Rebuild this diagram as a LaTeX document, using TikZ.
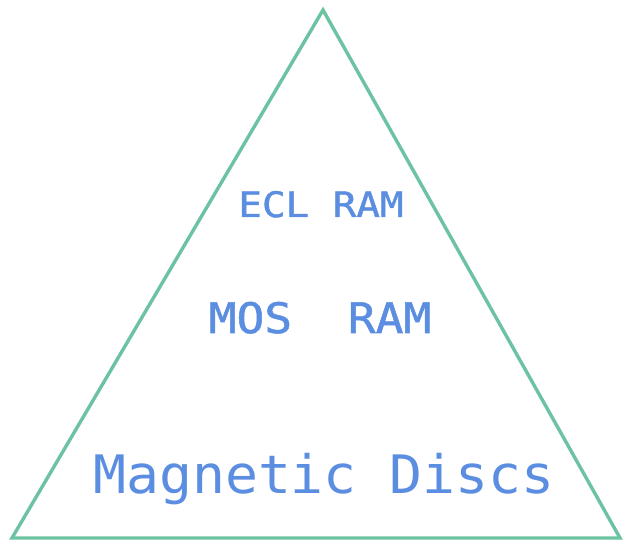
\documentclass[tikz,border=0pt]{standalone}
\usepackage{fontspec}
\newfontfamily\plotfont{DejaVu Sans Mono}[BoldFont={DejaVu Sans Mono},BoldFeatures={FakeBold=1.2}]
\definecolor{edgegreen}{HTML}{6CC3A2}
\definecolor{textblue}{HTML}{5B8EE0}
\begin{document}
\begin{tikzpicture}[x=1pt,y=1pt,
  edge/.style={draw=edgegreen,line width=3.4pt,line join=miter},
  label/.style={text=textblue,anchor=base,inner sep=0pt}]
\useasboundingbox (0,0) rectangle (623,541);
\coordinate (apex) at (323,531);
\coordinate (bl) at (12,3);
\coordinate (br) at (620,3);
\draw[edge] (apex) -- (bl) -- (br) -- cycle;
\node[label,font=\plotfont\bfseries\fontsize{35}{40}\selectfont] (ecl) at (321,324) {\scalebox{1.12}[1]{ECL RAM}};
\node[label,font=\plotfont\bfseries\fontsize{42}{48}\selectfont] (mos) at (320,208) {\scalebox{1.1}[1]{MOS\ \ RAM}};
\node[label,font=\plotfont\fontsize{53}{60}\selectfont] (mag) at (324,48) {\scalebox{1.034}[1]{Magnetic Discs}};
\end{tikzpicture}
\end{document}
